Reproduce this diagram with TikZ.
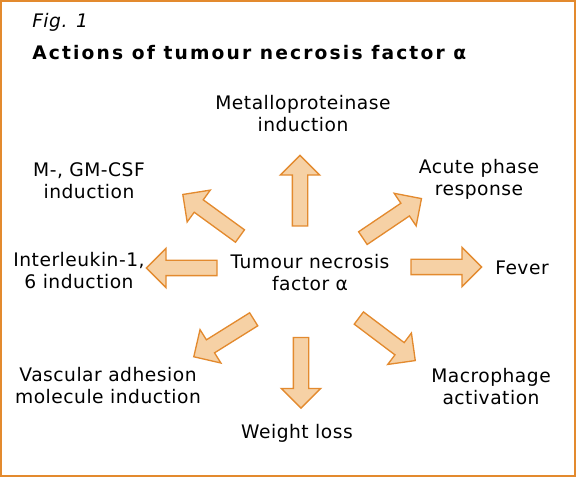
\documentclass[tikz,border=0pt]{standalone}
\usepackage{fontspec}
\setmainfont{DejaVu Sans}[LetterSpace=2.7]
\newfontfamily\titlefont{DejaVu Sans}[LetterSpace=11.5]
\usepackage{xcolor}
\definecolor{cEdge}{HTML}{E38A2E}
\definecolor{cFill}{HTML}{F6D1A5}
\usetikzlibrary{shapes.arrows}
\tikzset{
  node-label/.style={align=center,inner sep=0pt,
    font=\fontsize{14}{16.5}\selectfont},
  node-title/.style={anchor=west,inner sep=0pt,
    font=\titlefont\fontsize{14}{16.5}\selectfont\bfseries},
  node-fig/.style={anchor=west,inner sep=0pt,
    font=\fontsize{14}{16.5}\selectfont\itshape},
  arrow-fat/.style={single arrow,draw=cEdge,fill=cFill,line width=1pt,
    minimum height=53pt,inner xsep=0pt,inner ysep=5.25pt,
    single arrow head extend=9pt},
  frame/.style={draw=cEdge,line width=1.5pt},
}
\begin{document}
\begin{tikzpicture}[x=0.75pt,y=-0.75pt]
  \useasboundingbox (0,0) rectangle (576,478);
  \draw[frame] (1.5,1.5) rectangle (574.5,475.5);
  \node[node-fig] (fig) at (32,22) {Fig. 1};
  \node[node-title] (title) at (32,53) {Actions of tumour necrosis factor α};
  % centre and the eight effects
  \node[node-label] (tnf) at (310,273) {Tumour necrosis\\factor α};
  \node[node-label] (metal) at (303,114) {Metalloproteinase\\induction};
  \node[node-label] (csf) at (89,181) {M-, GM-CSF\\induction};
  \node[node-label] (acute) at (479,179) {Acute phase\\response};
  \node[node-label] (il) at (79,271) {Interleukin-1,\\6 induction};
  \node[node-label] (fever) at (522,268) {Fever};
  \node[node-label] (vasc) at (108,386) {Vascular adhesion\\molecule induction};
  \node[node-label] (macro) at (491,387) {Macrophage\\activation};
  \node[node-label] (weight) at (297,433) {Weight loss};
  % block arrows
  \node[arrow-fat,rotate=90] (a-metal) at (300,194.5) {};
  \node[arrow-fat,rotate=144] (a-csf) at (214.5,217.5) {};
  \node[arrow-fat,rotate=34] (a-acute) at (389,220.5) {};
  \node[arrow-fat,rotate=180] (a-il) at (185.5,268) {};
  \node[arrow-fat] (a-fever) at (442.5,267) {};
  \node[arrow-fat,rotate=212] (a-vasc) at (227,336) {};
  \node[arrow-fat,rotate=-37] (a-macro) at (384,337) {};
  \node[arrow-fat,rotate=-90] (a-weight) at (301,369) {};
\end{tikzpicture}
\end{document}
